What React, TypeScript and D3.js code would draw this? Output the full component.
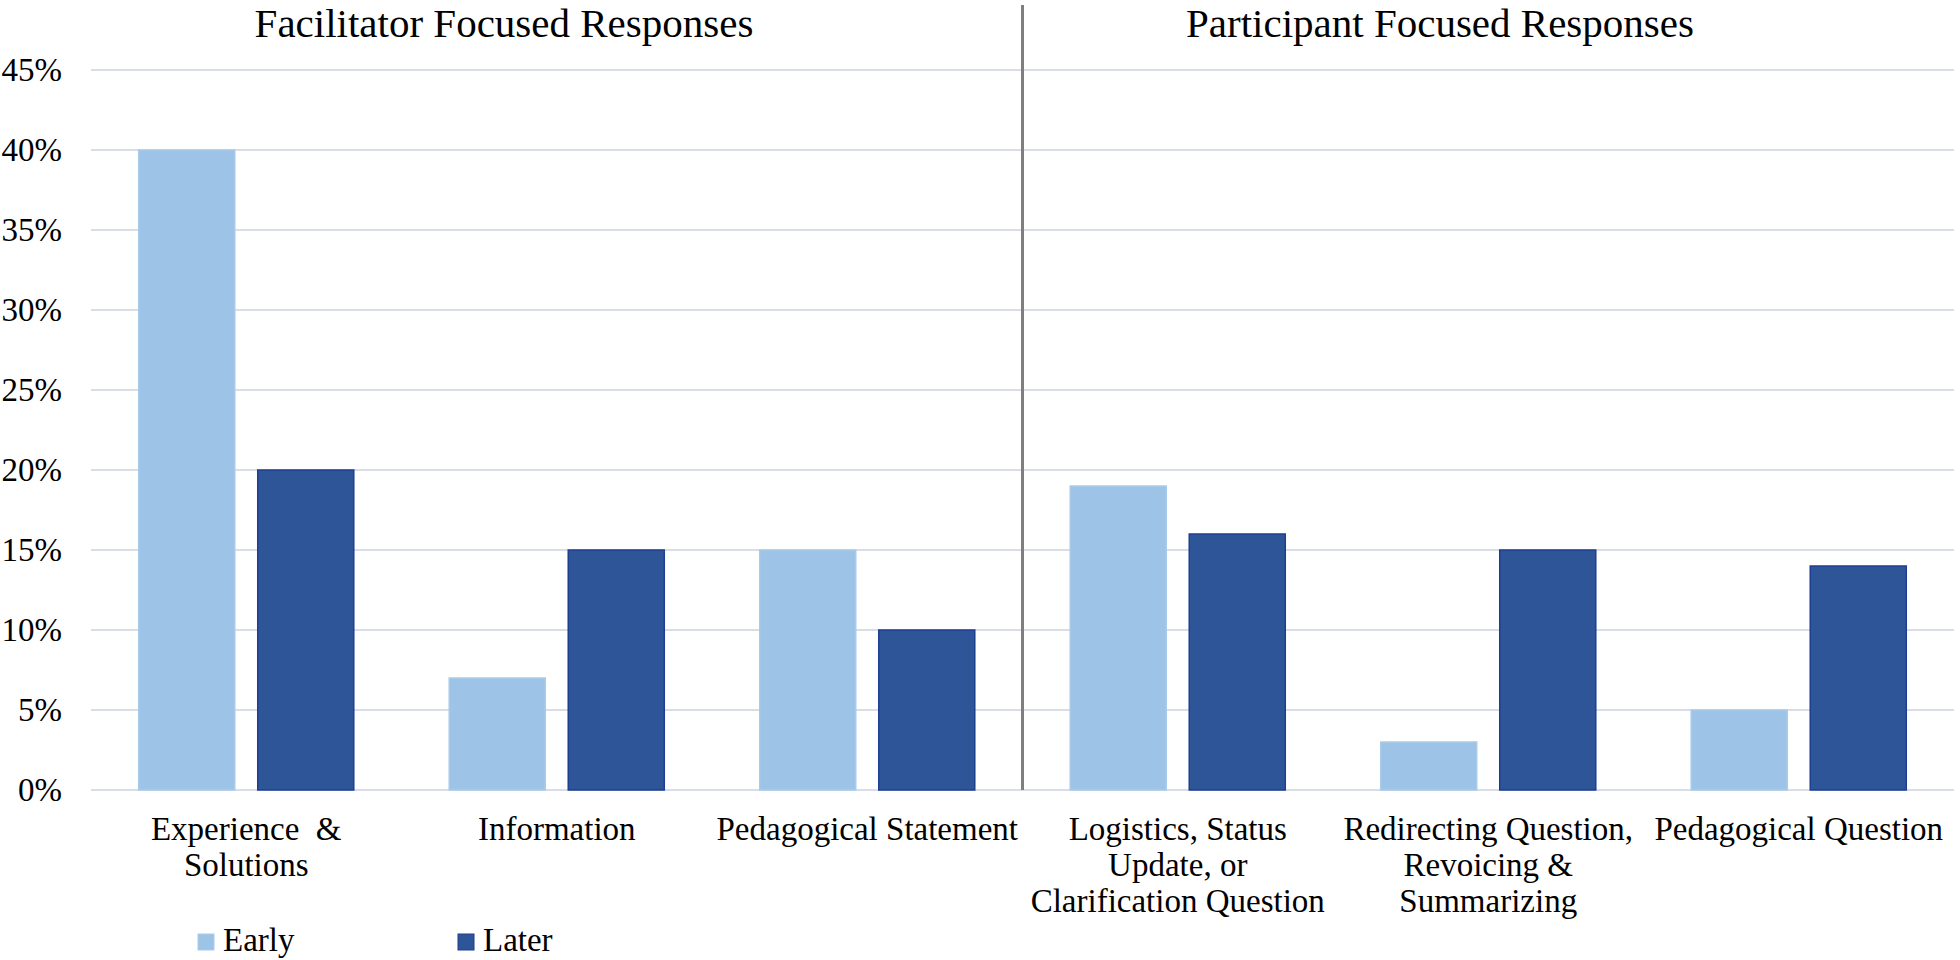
import React from "react";
import * as d3 from "d3";

const categories: string[][] = [
  ["Experience  &", "Solutions"],
  ["Information"],
  ["Pedagogical Statement"],
  ["Logistics, Status", "Update, or", "Clarification Question"],
  ["Redirecting Question,", "Revoicing &", "Summarizing"],
  ["Pedagogical Question"],
];
const seriesNames = ["Early", "Later"];
const earlyValues = [40, 7, 15, 19, 3, 5];
const laterValues = [20, 15, 10, 16, 15, 14];
const yTicks = [0, 5, 10, 15, 20, 25, 30, 35, 40, 45];
const groupTitles = ["Facilitator Focused Responses", "Participant Focused Responses"];

const colors: Record<string, string> = { Early: "#9dc3e6", Later: "#2e5597" };
const strokes: Record<string, string> = { Early: "#a9cbe9", Later: "#1e3f91" };

const W = 1960;
const H = 960;
const left = 91;
const right = 1954;
const top = 70;
const bottom = 790;
const font = "'Liberation Serif', 'Times New Roman', serif";

export default function App() {
  const idx = categories.map((_, i) => String(i));
  const x = d3.scaleBand<string>().domain(idx).range([left, right]).paddingInner(0).paddingOuter(0);
  const xs = d3
    .scaleBand<string>()
    .domain(seriesNames)
    .range([0, x.bandwidth()])
    .paddingInner(0.193)
    .paddingOuter(0.401);
  const y = d3.scaleLinear().domain([0, 45]).range([bottom, top]);
  const values: Record<string, number[]> = { Early: earlyValues, Later: laterValues };
  const sepX = x("3")!;

  return (
    <svg
      width={W}
      height={H}
      style={{ position: "absolute", left: 0, top: 0, background: "#fff" }}
      fontFamily={font}
    >
      <rect x={0} y={0} width={W} height={H} fill="#fff" />
      {yTicks.map((t) => (
        <g key={t}>
          <line x1={left} x2={right} y1={y(t)} y2={y(t)} stroke="#d9dde7" strokeWidth={2} />
          <text x={62} y={y(t) + 11} textAnchor="end" fontSize={33} fill="#000">
            {t}%
          </text>
        </g>
      ))}
      {seriesNames.map((s) =>
        values[s].map((v, i) => (
          <rect
            key={s + i}
            x={x(String(i))! + xs(s)!}
            y={y(v)}
            width={xs.bandwidth()}
            height={y(0) - y(v)}
            fill={colors[s]}
            stroke={strokes[s]}
            strokeWidth={1.5}
          />
        ))
      )}
      <line x1={sepX} x2={sepX} y1={5} y2={bottom} stroke="#7f7f7f" strokeWidth={3} />
      <text x={504} y={37} textAnchor="middle" fontSize={41} fill="#000">
        {groupTitles[0]}
      </text>
      <text x={1440} y={37} textAnchor="middle" fontSize={41} fill="#000">
        {groupTitles[1]}
      </text>
      {categories.map((lines, i) => (
        <text
          key={i}
          x={x(String(i))! + x.bandwidth() / 2}
          y={840}
          textAnchor="middle"
          fontSize={33}
          fill="#000"
          style={{ whiteSpace: "pre" }}
        >
          {lines.map((l, j) => (
            <tspan key={j} x={x(String(i))! + x.bandwidth() / 2} dy={j === 0 ? 0 : 36}>
              {l}
            </tspan>
          ))}
        </text>
      ))}
      {seriesNames.map((s, i) => {
        const lx = 198 + i * 260;
        return (
          <g key={s}>
            <rect x={lx} y={934} width={16} height={16} fill={colors[s]} stroke={strokes[s]} strokeWidth={1} />
            <text x={lx + 25} y={951} fontSize={33} fill="#000">
              {s}
            </text>
          </g>
        );
      })}
    </svg>
  );
}
